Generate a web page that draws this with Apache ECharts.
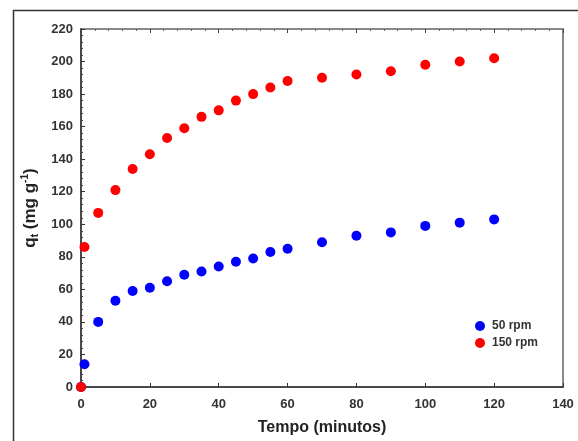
<!DOCTYPE html>
<html>
<head>
<meta charset="utf-8">
<script src="https://cdn.jsdelivr.net/npm/echarts@6/dist/echarts.min.js"></script>
<style>
  html, body { margin: 0; padding: 0; background: #fff; }
  #chart-container { width: 578px; height: 441px; }
</style>
</head>
<body>
<div id="chart-container"></div>
<script>
// time in minutes and adsorbed amount q_t (mg/g)
var tempo = [0, 1, 5, 10, 15, 20, 25, 30, 35, 40, 45, 50, 55, 60, 70, 80, 90, 100, 110, 120];
var q50rpm = [0, 14, 40, 53, 59, 61, 65, 69, 71, 74, 77, 79, 83, 85, 89, 93, 95, 99, 101, 103];
var q150rpm = [0, 86, 107, 121, 134, 143, 153, 159, 166, 170, 176, 180, 184, 188, 190, 192, 194, 198, 200, 202];
var seriesNames = ["50 rpm", "150 rpm"];

function pairs(xs, ys) {
  return xs.map(function (x, i) { return [x, ys[i]]; });
}

var dom = document.getElementById("chart-container");
var myChart = echarts.init(dom, null, { renderer: "canvas" });

var labelStyle = { color: "#333", fontWeight: "bold", fontSize: 13, fontFamily: "Arial, Liberation Sans" };

var option = {
  animation: false,
  backgroundColor: "#fff",
  graphic: [
    {
      type: "rect",
      shape: { x: 13.5, y: 10.5, width: 620, height: 480 },
      style: { fill: "none", stroke: "#333", lineWidth: 1.5 },
      silent: true
    }
  ],
  grid: {
    left: 81, right: 15, top: 29, bottom: 52,
    show: true, borderColor: "#888", borderWidth: 2
  },
  legend: {
    orient: "vertical",
    left: 470, top: 315,
    itemWidth: 10, itemHeight: 10, itemGap: 5,
    icon: "circle",
    data: seriesNames,
    textStyle: { color: "#333", fontWeight: "bold", fontSize: 12, fontFamily: "Arial, Liberation Sans", padding: [0, 0, 0, 2] }
  },
  xAxis: [
    {
      type: "value", min: 0, max: 140, interval: 20,
      name: "Tempo (minutos)", nameLocation: "middle", nameGap: 33,
      nameTextStyle: { color: "#222", fontWeight: "bold", fontSize: 16, fontFamily: "Arial, Liberation Sans" },
      axisLine: { show: true, lineStyle: { color: "#333", width: 1.5 } },
      axisTick: { show: true, inside: true, length: 4, lineStyle: { color: "#333" } },
      axisLabel: Object.assign({ margin: 11 }, labelStyle),
      splitLine: { show: false }
    },
    {
      type: "value", min: 0, max: 140, interval: 20, position: "top",
      axisLine: { show: false },
      axisTick: { show: true, inside: true, length: 4, lineStyle: { color: "#444" } },
      minorTick: { show: true, splitNumber: 5, length: 2, lineStyle: { color: "#666" } },
      axisLabel: { show: false },
      splitLine: { show: false }
    }
  ],
  yAxis: {
    type: "value", min: 0, max: 220, interval: 20,
    name: "{q|q}{sub|t}{q| (mg g}{sup|-1}{q|)}",
    nameLocation: "middle", nameGap: 40, nameRotate: 90,
    nameTextStyle: {
      rich: {
        q: { color: "#222", fontWeight: "bold", fontSize: 17, fontFamily: "Arial, Liberation Sans", lineHeight: 20 },
        sub: { color: "#222", fontWeight: "bold", fontSize: 10, fontFamily: "Arial, Liberation Sans", verticalAlign: "bottom", lineHeight: 20 },
        sup: { color: "#222", fontWeight: "bold", fontSize: 10, fontFamily: "Arial, Liberation Sans", verticalAlign: "top", lineHeight: 20 }
      }
    },
    axisLine: { show: true, lineStyle: { color: "#333", width: 1.5 } },
    axisTick: { show: true, inside: true, length: 4, lineStyle: { color: "#333" } },
    minorTick: { show: true, splitNumber: 5, length: 2, lineStyle: { color: "#444" } },
    axisLabel: Object.assign({ margin: 8 }, labelStyle),
    splitLine: { show: false }
  },
  series: [
    {
      name: seriesNames[0], type: "scatter", symbol: "circle", symbolSize: 10,
      itemStyle: { color: "#0000ff", opacity: 1 },
      data: pairs(tempo, q50rpm)
    },
    {
      name: seriesNames[1], type: "scatter", symbol: "circle", symbolSize: 10,
      itemStyle: { color: "#ff0000", opacity: 1 },
      data: pairs(tempo, q150rpm)
    }
  ]
};

myChart.setOption(option);
</script>
</body>
</html>
